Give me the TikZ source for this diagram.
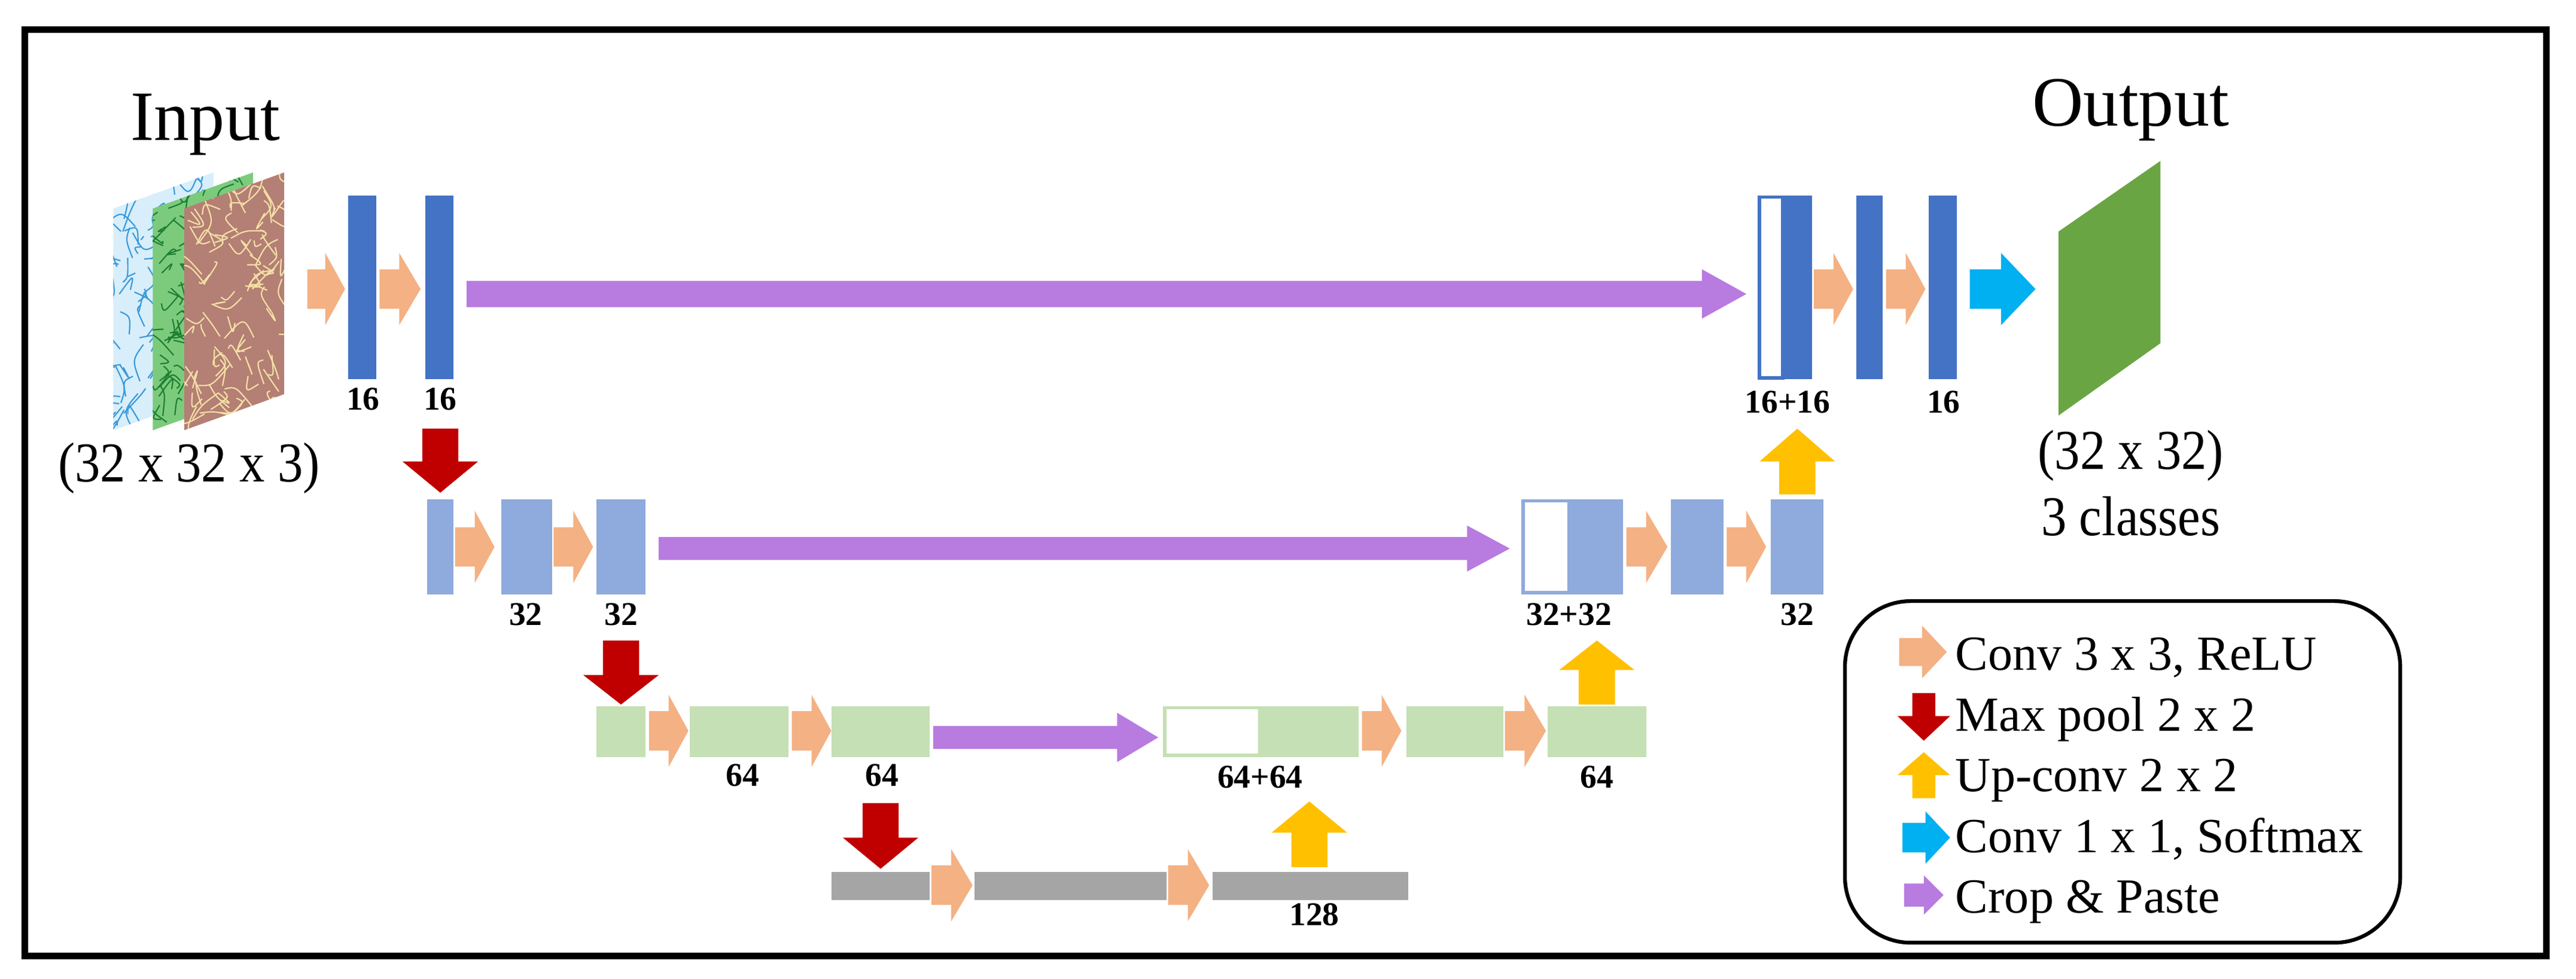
\documentclass[tikz,border=0pt]{standalone}
\usepackage{fontspec}
\setmainfont{Liberation Serif}
\definecolor{peach}{HTML}{F4B183}
\definecolor{pool}{HTML}{C00000}
\definecolor{upc}{HTML}{FFC000}
\definecolor{soft}{HTML}{00B0F0}
\definecolor{crop}{HTML}{B87BE0}
\definecolor{dblue}{HTML}{4472C4}
\definecolor{lblue}{HTML}{8FAADC}
\definecolor{lgreen}{HTML}{C5E0B4}
\definecolor{lgray}{HTML}{A5A5A5}
\definecolor{ogreen}{HTML}{6AA544}
\definecolor{pbg1}{HTML}{D8EEFA}\definecolor{pfg1}{HTML}{3A9AD9}
\definecolor{pbg2}{HTML}{7CCB7C}\definecolor{pfg2}{HTML}{1E7F34}
\definecolor{pbg3}{HTML}{B47F74}\definecolor{pfg3}{HTML}{F3DFA6}
% horizontal block arrow: colour, tail x, head base x, tip x, centre y, shaft half, head half
\newcommand\HA[7]{\fill[#1] (#2,#5-#6) -- (#3,#5-#6) -- (#3,#5-#7) -- (#4,#5) -- (#3,#5+#7) -- (#3,#5+#6) -- (#2,#5+#6) -- cycle;}
% vertical block arrow: colour, centre x, tail y, head base y, tip y, shaft half, head half
\newcommand\VA[7]{\fill[#1] (#2-#6,#3) -- (#2-#6,#4) -- (#2-#7,#4) -- (#2,#5) -- (#2+#7,#4) -- (#2+#6,#4) -- (#2+#6,#3) -- cycle;}
% block: name, x1, y1, x2, y2, style
\newcommand\BLK[6]{\node[blk,#6,minimum width={(#4-#2)*0.2mm},minimum height={(#5-#3)*0.2mm}] (#1) at ({(#2+#4)/2},{(#3+#5)/2}) {};}
\tikzset{
  blk/.style={inner sep=0,outer sep=0,draw=none},
  wbox/.style={fill=white,draw=#1,line width=1.2pt},
  lab/.style={font=\bfseries\fontsize{11.5}{12}\selectfont,inner sep=0},
  leg/.style={font=\fontsize{17}{18}\selectfont,anchor=base west,inner sep=0},
  big/.style={font=\fontsize{19.5}{21}\selectfont,xscale=0.9,align=center},
}
\begin{document}
\begin{tikzpicture}[x=0.2mm,y=-0.2mm]
\useasboundingbox (0,0) rectangle (1568,596);
\draw[line width=2.3pt] (15,18) rectangle (1550,582);
% Input
\node[font=\fontsize{24.5}{26}\selectfont] (tin) at (125,76) {Input};
\pgfmathsetseed{7}
\foreach \L/\bg/\fg in {69/pbg1/pfg1,93/pbg2/pfg2,112/pbg3/pfg3}{
  \begin{scope}
  \clip (\L,127) -- (\L+61,105) -- (\L+61,240) -- (\L,262) -- cycle;
  \fill[\bg] (\L,100) rectangle (\L+61,270);
  \foreach \i in {1,...,110}{
    \pgfmathsetmacro\xa{\L+30+32*rand}\pgfmathsetmacro\ya{185+80*rand}
    \pgfmathsetmacro\xb{\xa+12*rand}\pgfmathsetmacro\yb{\ya+14*rand}
    \pgfmathsetmacro\xc{\xb+12*rand}\pgfmathsetmacro\yc{\yb+14*rand}
    \draw[\fg,line width=0.45pt] (\xa,\ya) .. controls (\xb,\yb) .. (\xc,\yc);
  }
  \end{scope}
}
\node[big] (tin2) at (115,285) {(32 x 32 x 3)};
% Level 1
\BLK{a1}{212}{119}{229}{231}{fill=dblue}
\BLK{a2}{259}{119}{276}{231}{fill=dblue}
\BLK{r1w}{1071}{120}{1085}{230}{wbox=dblue}
\BLK{r1}{1085}{119}{1103}{231}{fill=dblue}
\BLK{r2}{1130}{119}{1146}{231}{fill=dblue}
\BLK{r3}{1174}{119}{1191}{231}{fill=dblue}
\HA{peach}{187}{198}{210}{176}{12}{22}
\HA{peach}{231}{243}{256}{176}{12}{22}
\HA{peach}{1104}{1116}{1128}{176}{12}{22}
\HA{peach}{1148}{1160}{1172}{176}{12}{22}
\HA{soft}{1199}{1218}{1239}{176}{12}{22}
\HA{crop}{284}{1036}{1063}{179}{8}{15}
\node[lab] at (221,243) {16};
\node[lab] at (268,243) {16};
\node[lab] at (1088,245) {16+16};
\node[lab] at (1183,245) {16};
% Output
\fill[ogreen] (1253,141) -- (1315,98) -- (1315,209) -- (1253,253) -- cycle;
\node[font=\fontsize{24.5}{26}\selectfont] (tout) at (1297,67) {Output};
\node[big] (tout2) at (1297,294) {(32 x 32)\\[2pt]3 classes};
% Level 2
\BLK{b1}{260}{304}{276}{362}{fill=lblue}
\BLK{b2}{305}{304}{336}{362}{fill=lblue}
\BLK{b3}{363}{304}{393}{362}{fill=lblue}
\BLK{s1w}{927}{305}{955}{361}{wbox=lblue}
\BLK{s1}{955}{304}{988}{362}{fill=lblue}
\BLK{s2}{1017}{304}{1049}{362}{fill=lblue}
\BLK{s3}{1078}{304}{1110}{362}{fill=lblue}
\HA{peach}{277}{289}{301}{333}{12}{22}
\HA{peach}{337}{349}{361}{333}{12}{22}
\HA{peach}{990}{1002}{1015}{333}{12}{22}
\HA{peach}{1051}{1063}{1075}{333}{12}{22}
\HA{crop}{401}{893}{919}{334}{7}{14}
\node[lab] at (320,374) {32};
\node[lab] at (378,374) {32};
\node[lab] at (955,374) {32+32};
\node[lab] at (1094,374) {32};
% Level 3
\BLK{c1}{363}{430}{393}{461}{fill=lgreen}
\BLK{c2}{420}{430}{480}{461}{fill=lgreen}
\BLK{c3}{506}{430}{566}{461}{fill=lgreen}
\BLK{t1w}{709}{431}{767}{460}{wbox=lgreen}
\BLK{t1}{767}{430}{827}{461}{fill=lgreen}
\BLK{t2}{856}{430}{915}{461}{fill=lgreen}
\BLK{t3}{942}{430}{1002}{461}{fill=lgreen}
\HA{peach}{395}{407}{419}{445}{12}{22}
\HA{peach}{482}{494}{506}{445}{12}{22}
\HA{peach}{829}{841}{853}{445}{12}{22}
\HA{peach}{916}{928}{941}{445}{12}{22}
\HA{crop}{568}{680}{705}{449}{7}{15}
\node[lab] at (452,472) {64};
\node[lab] at (537,472) {64};
\node[lab] at (767,473) {64+64};
\node[lab] at (972,473) {64};
% Level 4
\BLK{d1}{506}{531}{566}{548}{fill=lgray}
\BLK{d2}{593}{531}{710}{548}{fill=lgray}
\BLK{d3}{738}{531}{857}{548}{fill=lgray}
\HA{peach}{567}{579}{592}{539}{12}{22}
\HA{peach}{711}{723}{736}{539}{12}{22}
\node[lab] at (800,557) {128};
% pooling / up-conv
\VA{pool}{268}{261}{281}{300}{11}{23}
\VA{pool}{378}{390}{411}{429}{11}{23}
\VA{pool}{536}{489}{510}{529}{11}{23}
\VA{upc}{797}{528}{507}{488}{11}{23}
\VA{upc}{972}{429}{408}{390}{11}{23}
\VA{upc}{1094}{301}{281}{261}{11}{23}
% Legend
\draw[line width=1.3pt,rounded corners=8mm] (1123,366) rectangle (1461,574);
\HA{peach}{1156}{1170}{1185}{397}{8.5}{16}
\VA{pool}{1171}{422}{436}{451}{7}{16}
\VA{upc}{1171}{486}{472}{458}{7}{16}
\HA{soft}{1158}{1172}{1187}{510}{9}{16}
\HA{crop}{1159}{1171}{1183}{545}{7}{12}
\node[leg] (l1) at (1190,408) {Conv 3 x 3, ReLU};
\node[leg] (l2) at (1190,445) {Max pool 2 x 2};
\node[leg] (l3) at (1190,482) {Up-conv 2 x 2};
\node[leg] (l4) at (1190,519) {Conv 1 x 1, Softmax};
\node[leg] (l5) at (1190,556) {Crop \& Paste};
\end{tikzpicture}
\end{document}
